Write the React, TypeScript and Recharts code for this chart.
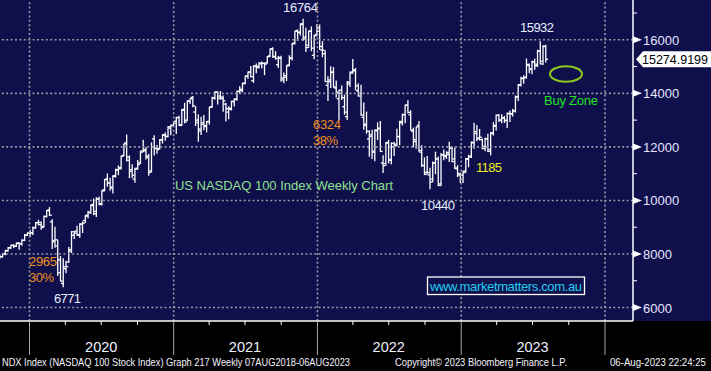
import { Bar, ComposedChart, ReferenceDot, ReferenceLine, XAxis, YAxis } from "recharts";

document.body.style.margin = "0";

// weekly bars, dated by the Friday that ends the week: [open, high, low, close]
const firstFriday = ["2019-10-18", "2020-01-03", "2021-01-01", "2022-01-07", "2023-01-06"];

const ohlc2019 = [
  [7870, 7960, 7840, 7900], [7900, 8020, 7880, 8000], [8000, 8140, 7970, 8120],
  [8120, 8240, 8110, 8230], [8230, 8330, 8200, 8320], [8320, 8350, 8240, 8290],
  [8290, 8410, 8280, 8400], [8400, 8420, 8180, 8380], [8380, 8530, 8330, 8510],
  [8510, 8730, 8500, 8700], [8700, 8790, 8690, 8780],
];

const ohlc2020 = [
  [8780, 8880, 8650, 8790], [8790, 9010, 8730, 8980], [8980, 9180, 8960, 9170],
  [9170, 9260, 9080, 9180], [9100, 9190, 8920, 8990],
  [9030, 9420, 9010, 9400], [9400, 9620, 9380, 9620], [9640, 9736, 9440, 9450],
  [9200, 9280, 8200, 8460],
  [8500, 9000, 8250, 8530], [8300, 8520, 7200, 7780], [7300, 7900, 6990, 6990],
  [6900, 7820, 6771, 7520],
  [7450, 7730, 7300, 7530], [7700, 8240, 7680, 8160], [8100, 8840, 8050, 8830],
  [8700, 8850, 8580, 8780],
  [8850, 9040, 8700, 8720], [8700, 9130, 8620, 9120], [9100, 9200, 8800, 9150],
  [9250, 9440, 9180, 9410], [9450, 9600, 9350, 9560],
  [9540, 9830, 9520, 9810], [9850, 10050, 9470, 9590], [9500, 10100, 9400, 10060],
  [10050, 10130, 9840, 9850],
  [9880, 10360, 9830, 10350], [10400, 10780, 10360, 10780], [10800, 10990, 10530, 10660],
  [10650, 10830, 10380, 10460], [10500, 10920, 10280, 10900],
  [10930, 11170, 10870, 11140], [11150, 11290, 10960, 11180], [11220, 11650, 11170, 11650],
  [11680, 12110, 11670, 12110],
  [12150, 12440, 11470, 11620], [11500, 11660, 10850, 11090], [11150, 11330, 10860, 10940],
  [10800, 11200, 10680, 11170],
  [11200, 11490, 11160, 11340], [11400, 11840, 11380, 11800], [11850, 12250, 11820, 11850],
  [11900, 11970, 11550, 11660], [11600, 11720, 10940, 11050],
  [11100, 12150, 11060, 12010], [12300, 12420, 11700, 11940], [11950, 12050, 11760, 11900],
  [11940, 12280, 11920, 12260],
  [12270, 12460, 12140, 12430], [12450, 12520, 12250, 12380], [12400, 12760, 12380, 12750],
  [12700, 12820, 12450, 12800],
];

const ohlc2021 = [
  [12800, 12950, 12780, 12890], [12960, 13110, 12500, 13100], [13090, 13140, 12800, 12800],
  [12830, 13400, 12800, 13370], [13400, 13630, 12900, 12930],
  [13000, 13720, 12990, 13720], [13700, 13800, 13620, 13800], [13850, 13880, 13500, 13530],
  [13300, 13500, 12800, 12910],
  [13000, 13200, 12210, 12670], [12600, 13110, 12460, 12840], [12900, 13170, 12640, 12760],
  [12800, 12950, 12560, 12940],
  [12950, 13480, 12850, 13480], [13500, 13850, 13480, 13840], [13820, 14060, 13780, 14040],
  [14040, 14060, 13600, 13820], [13900, 14070, 13780, 13860],
  [13800, 13900, 13330, 13720], [13600, 13620, 12970, 13430], [13300, 13500, 13050, 13400],
  [13440, 13710, 13380, 13690],
  [13700, 13790, 13530, 13770], [13790, 14080, 13740, 14070], [14080, 14250, 13990, 14150],
  [14100, 14380, 14060, 14360],
  [14380, 14640, 14360, 14640], [14650, 14800, 14560, 14790], [14800, 15000, 14620, 14620],
  [14470, 15030, 14410, 15010], [15020, 15100, 14770, 14960],
  [15010, 15150, 14950, 15100], [15130, 15170, 14950, 15120], [15120, 15130, 14700, 15090],
  [15140, 15380, 15120, 15370],
  [15400, 15660, 15380, 15650], [15670, 15700, 15350, 15360], [15380, 15560, 15280, 15300],
  [15070, 15380, 14970, 15310],
  [15340, 15390, 14450, 14570], [14500, 14760, 14400, 14660], [14600, 15040, 14480, 15030],
  [15060, 15400, 15030, 15330], [15300, 15860, 15250, 15850],
  [15880, 16320, 15840, 16320], [16340, 16370, 15980, 16270], [16290, 16600, 16180, 16570],
  [16600, 16764, 15980, 16030],
  [16100, 16430, 15560, 15710], [15800, 16320, 15720, 16320], [16330, 16480, 15590, 15690],
  [15420, 16160, 15290, 16150], [16200, 16570, 16150, 16320],
];

const ohlc2022 = [
  [16450, 16550, 15640, 15750], [15620, 15930, 15370, 15610], [15480, 15580, 14440, 14440],
  [14300, 14620, 13730, 14440],
  [14500, 14990, 14220, 14780], [14800, 14960, 14230, 14240], [14200, 14460, 13860, 14040],
  [13800, 14120, 13020, 14120],
  [14000, 14270, 13770, 13840], [13500, 13930, 13220, 13300], [13130, 14440, 13020, 14420],
  [14350, 14800, 14260, 14760],
  [14800, 15260, 14750, 14840], [14880, 14930, 14130, 14280], [14100, 14360, 13900, 13900],
  [14000, 14300, 13180, 13190], [13100, 13640, 12660, 12850],
  [12800, 13300, 12510, 12580], [12300, 12600, 11650, 12390], [12450, 12620, 11570, 11840],
  [11800, 12630, 11480, 12630],
  [12600, 12900, 12280, 12670], [12700, 12950, 11830, 11830], [11400, 11670, 11040, 11300],
  [11380, 12160, 11310, 12140],
  [12170, 12250, 11400, 11530], [11500, 12150, 11370, 12130], [12000, 12170, 11680, 12040],
  [12100, 12660, 12030, 12390], [12380, 12950, 12080, 12950],
  [12900, 13220, 12820, 13210], [13200, 13560, 12900, 13560], [13560, 13720, 13270, 13290],
  [13200, 13350, 12630, 12630],
  [12580, 12700, 12000, 12270], [12200, 12740, 11950, 12740], [12800, 12950, 11840, 11860],
  [11800, 12040, 11270, 11310], [11300, 11590, 10970, 10970],
  [11050, 11640, 10990, 11040], [10950, 11200, 10440, 10690], [10800, 11440, 10700, 11400],
  [11400, 11800, 11000, 11560],
  [11550, 11620, 10560, 10560], [10620, 11750, 10550, 11700], [11700, 11880, 11520, 11680],
  [11630, 11820, 11570, 11790],
  [11720, 12170, 11450, 11960], [11950, 12000, 11450, 11450], [11550, 11960, 11190, 11210],
  [11180, 11300, 10890, 11000], [10950, 11020, 10670, 10940],
];

const ohlc2023 = [
  [10960, 11100, 10670, 11040], [11100, 11570, 11050, 11540], [11560, 11690, 11260, 11620],
  [11650, 12180, 11600, 12170],
  [12150, 12880, 11950, 12570], [12500, 12800, 12230, 12300], [12330, 12650, 12260, 12360],
  [12270, 12300, 11930, 11940],
  [12020, 12330, 11860, 12300], [12300, 12470, 11830, 11830], [11900, 12540, 11700, 12520],
  [12500, 12900, 12440, 12770], [12800, 13190, 12630, 13180],
  [13180, 13210, 12950, 13000], [13000, 13200, 12900, 13080], [13080, 13140, 12910, 13000],
  [12980, 13270, 12720, 13250],
  [13240, 13340, 12950, 13240], [13230, 13410, 13150, 13340], [13350, 13900, 13300, 13860],
  [13870, 14330, 13730, 14300],
  [14320, 14600, 14270, 14550], [14570, 14660, 14380, 14580], [14600, 15280, 14570, 15080],
  [15050, 15100, 14770, 14890], [14910, 15200, 14730, 15180],
  [15170, 15270, 14900, 15030], [15090, 15610, 15000, 15570], [15580, 15932, 15110, 15100],
  [15200, 15780, 15080, 15750],
  [15760, 15800, 15170, 15274.92],
];

const yearBlocks = [ohlc2019, ohlc2020, ohlc2021, ohlc2022, ohlc2023];

const gridLevels = [6000, 8000, 10000, 12000, 14000, 16000];
const priceTicks = [6000, 7000, 8000, 9000, 10000, 11000, 12000, 13000, 14000, 15000, 16000, 17000];
const yearLabels = ["2020", "2021", "2022", "2023"];
const boundaryYears = [2020, 2021, 2022, 2023, 2024];
const lastPrice = 15274.9199;

const DAY = 86400000;
const data = yearBlocks.flatMap((block, i) => {
  const start = Date.parse(firstFriday[i] + "T00:00:00Z");
  return block.map(([o, h, l, c], j) => ({ t: start + j * 7 * DAY, o, h, l, c, range: [l, h] }));
});

const X0 = Date.UTC(2019, 9, 18, 2);
const X1 = Date.UTC(2024, 2, 12, 2);
const Y0 = 5496;
const Y1 = 17487;

const quarterTicks: number[] = [];
for (const yr of boundaryYears) {
  for (const m of [0, 3, 6, 9]) {
    const t = Date.UTC(yr, m, 1);
    if (t <= X1) quarterTicks.push(t);
  }
}

const NAVY = "#0f0f4c";
const GRID = "#9a9aa4";
const SANS = "'Liberation Sans', Arial, sans-serif";
const NARROW = "'Liberation Sans Narrow', 'Arial Narrow', 'Liberation Sans', sans-serif";

function OhlcBar(props: any) {
  const { x, y, width, height, payload } = props;
  if (!payload || height == null) return null;
  const top = Math.min(y, y + height);
  const span = Math.abs(height);
  const k = payload.h > payload.l ? span / (payload.h - payload.l) : 0;
  const cx = x + width / 2;
  const oy = top + (payload.h - payload.o) * k;
  const cy = top + (payload.h - payload.c) * k;
  return (
    <g stroke="#ffffff" strokeWidth={1.3}>
      <line x1={cx} x2={cx} y1={top - 0.5} y2={top + span + 0.5} />
      <line x1={cx - 2.3} x2={cx} y1={oy} y2={oy} />
      <line x1={cx} x2={cx + 2.3} y1={cy} y2={cy} />
    </g>
  );
}

function PriceTick({ x, y, payload }: any) {
  const v = payload.value;
  if (v % 2000 !== 0) {
    return <line x1={x} x2={x + 4} y1={y} y2={y} stroke="#ffffff" />;
  }
  return (
    <g>
      <polygon points={`${x},${y - 3.5} ${x + 9},${y} ${x},${y + 3.5}`} fill="#ffffff" />
      <text x={x + 10} y={y + 5} fill="#e6e6ff" fontSize={13} fontFamily={SANS}>
        {v}
      </text>
    </g>
  );
}

function TimeTick({ x, y, payload }: any) {
  const d = new Date(payload.value);
  const m = d.getUTCMonth();
  if (m === 0) {
    return <line x1={x} x2={x} y1={y} y2={y + 34} stroke="#a8a8a8" />;
  }
  return (
    <g>
      <line x1={x} x2={x} y1={y} y2={y + 4} stroke="#ffffff" />
      {m === 6 && (
        <text x={x} y={y + 31} textAnchor="middle" fill="#f0f0ff" fontSize={14.5} fontFamily={NARROW}>
          {yearLabels[d.getUTCFullYear() - 2020]}
        </text>
      )}
    </g>
  );
}

function PriceTag({ cx, cy }: any) {
  const x = cx + 3;
  return (
    <g>
      <polygon
        points={`${x},${cy} ${x + 7},${cy - 8} 711,${cy - 8} 711,${cy + 8} ${x + 7},${cy + 8}`}
        fill="#ffffff"
      />
      <text x={x + 6} y={cy + 5} fill="#000000" fontSize={13} fontFamily={SANS} textLength={66} lengthAdjust="spacingAndGlyphs">
        {lastPrice.toFixed(4)}
      </text>
    </g>
  );
}

export default function App() {
  return (
    <div
      style={{
        position: "relative",
        width: 711,
        height: 371,
        background: `linear-gradient(to bottom, ${NAVY} 0px, ${NAVY} 321px, #000000 321px)`,
      }}
    >
      <ComposedChart width={711} height={371} data={data} margin={{ top: 0, right: 0, bottom: 0, left: 0 }}>
        <XAxis
          dataKey="t"
          type="number"
          domain={[X0, X1]}
          allowDataOverflow
          ticks={quarterTicks}
          interval={0}
          tick={(p: any) => <TimeTick {...p} />}
          tickLine={false}
          tickSize={0}
          tickMargin={0}
          height={50}
          axisLine={{ stroke: "#ffffff", strokeWidth: 1.5 }}
        />
        <YAxis
          orientation="right"
          type="number"
          domain={[Y0, Y1]}
          allowDataOverflow
          ticks={priceTicks}
          interval={0}
          tick={(p: any) => <PriceTick {...p} />}
          tickLine={false}
          tickSize={0}
          tickMargin={0}
          width={78}
          axisLine={{ stroke: "#ffffff", strokeWidth: 1.5 }}
        />
        {gridLevels.map((v) => (
          <ReferenceLine key={v} y={v} stroke={GRID} strokeWidth={1.6} strokeDasharray="2 2.4" />
        ))}
        {boundaryYears.map((yr) => (
          <ReferenceLine key={yr} x={Date.UTC(yr, 0, 1)} stroke={GRID} strokeWidth={1.6} strokeDasharray="2 2.4" />
        ))}
        <Bar dataKey="range" barSize={3} shape={<OhlcBar />} isAnimationActive={false} />
        <ReferenceDot x={X1} y={lastPrice} r={0} ifOverflow="visible" shape={(p: any) => <PriceTag {...p} />} />
      </ComposedChart>

      <svg
        width={711}
        height={371}
        style={{ position: "absolute", left: 0, top: 0, pointerEvents: "none" }}
        fontFamily={SANS}
        fontSize={13}
      >
        <text x={283} y={12} fill="#e8eeff" textLength={35}>16764</text>
        <text x={29} y={266} fill="#f0901e" textLength={28}>2965</text>
        <text x={29} y={282} fill="#f0901e" textLength={25}>30%</text>
        <text x={54} y={303} fill="#e8eeff" textLength={27}>6771</text>
        <text x={313} y={129} fill="#f0901e" textLength={28}>6324</text>
        <text x={313} y={145} fill="#f0901e" textLength={25}>38%</text>
        <text x={175} y={190} fill="#8fe08f" textLength={218}>US NASDAQ 100 Index Weekly Chart</text>
        <text x={421} y={210} fill="#e8eeff" textLength={34}>10440</text>
        <text x={476} y={172} fill="#eeee22" textLength={26}>1185</text>
        <text x={520} y={32} fill="#e8eeff" textLength={34}>15932</text>
        <ellipse cx={566} cy={74} rx={16} ry={7.8} fill="none" stroke="#8cc81e" strokeWidth={2} />
        <text x={544} y={105} fill="#22e022" textLength={54}>Buy Zone</text>
        <rect x={427.5} y={277} width={157} height={17.5} fill={NAVY} stroke="#ffffff" strokeWidth={1.3} />
        <text x={430} y={291} fill="#22d0f0" textLength={152}>www.marketmatters.com.au</text>

        <g fill="#f4f4ff" fontFamily={NARROW} fontSize={10.5}>
          <text x={2} y={366} textLength={348} lengthAdjust="spacingAndGlyphs">
            NDX Index (NASDAQ 100 Stock Index) Graph 217  Weekly 07AUG2018-06AUG2023
          </text>
          <text x={395} y={366} textLength={172} lengthAdjust="spacingAndGlyphs">
            Copyright© 2023 Bloomberg Finance L.P.
          </text>
          <text
            transform="translate(610 366) scale(0.82 1)"
            fontFamily={SANS}
            textLength={117}
            lengthAdjust="spacingAndGlyphs"
          >
            06-Aug-2023 22:24:25
          </text>
        </g>
      </svg>
    </div>
  );
}
